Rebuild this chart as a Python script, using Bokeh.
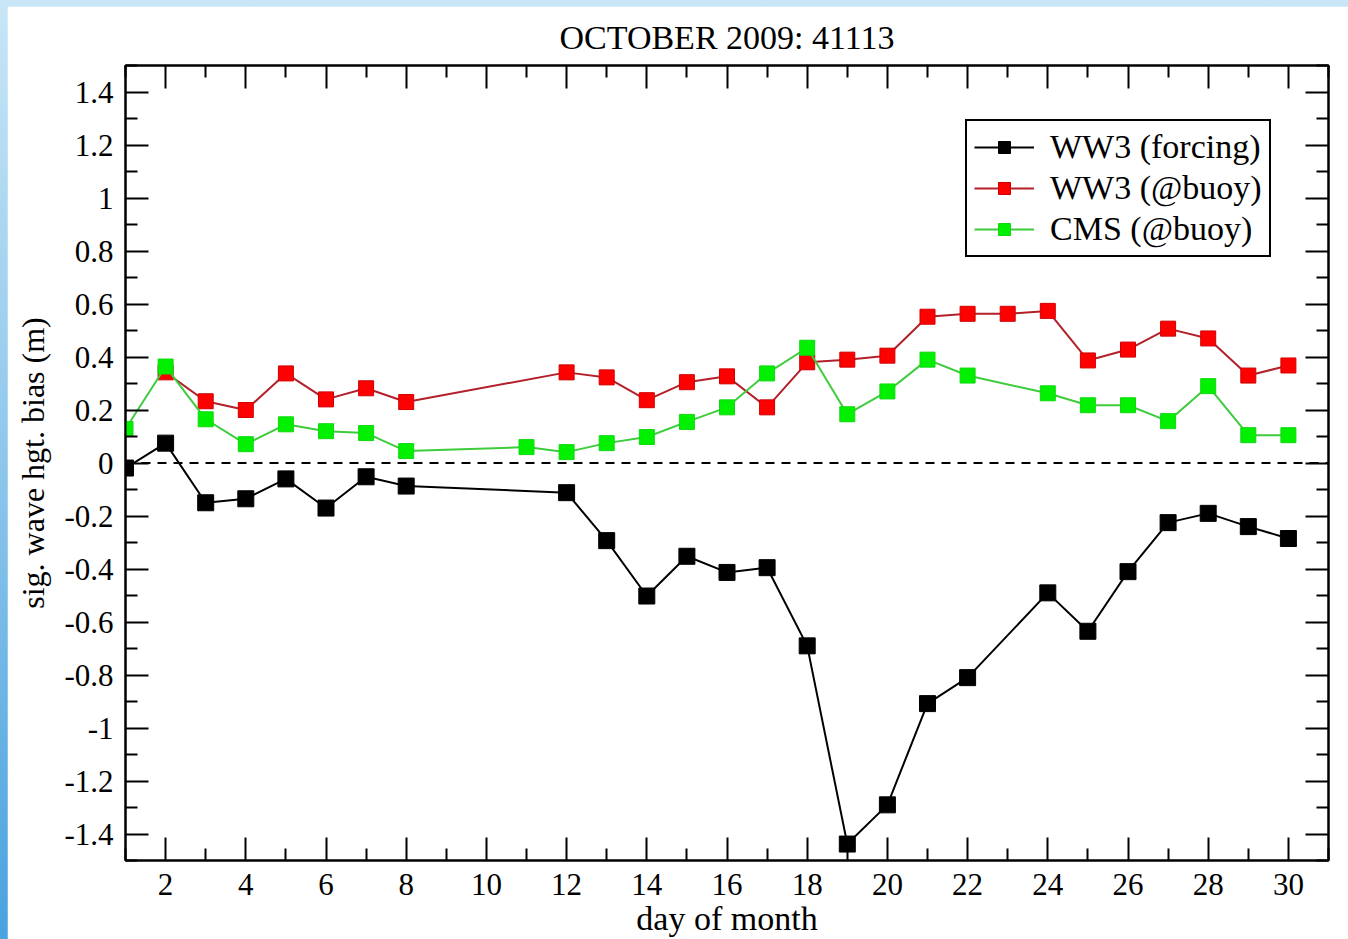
from bokeh.plotting import figure
from bokeh.models import (LinearAxis, FixedTicker, Span, Legend, LegendItem,
                          ColumnDataSource, Range1d, CustomJSTickFormatter)
from bokeh.layouts import column
from bokeh.embed import file_html
from bokeh.resources import INLINE

# ---------------- data ----------------
title_text = "OCTOBER 2009: 41113"
x_label = "day of month"
y_label = "sig. wave hgt. bias (m)"

days_forcing = [1, 2, 3, 4, 5, 6, 7, 8, 12, 13, 14, 15, 16, 17, 18, 19, 20, 21, 22,
                24, 25, 26, 27, 28, 29, 30]
bias_forcing = [-0.019, 0.075, -0.15, -0.135, -0.06, -0.17, -0.052, -0.087,
                -0.112, -0.293, -0.502, -0.352, -0.413, -0.395, -0.69, -1.438,
                -1.29, -0.908, -0.81, -0.49, -0.635, -0.41, -0.225, -0.19, -0.24, -0.285]

days_ww3_buoy = [2, 3, 4, 5, 6, 7, 8, 12, 13, 14, 15, 16, 17, 18, 19, 20, 21, 22, 23,
                 24, 25, 26, 27, 28, 29, 30]
bias_ww3_buoy = [0.342, 0.233, 0.2, 0.338, 0.24, 0.282, 0.23, 0.342, 0.323, 0.237,
                 0.305, 0.327, 0.21, 0.38, 0.39, 0.405, 0.552, 0.563, 0.563, 0.574,
                 0.387, 0.428, 0.507, 0.47, 0.33, 0.368]

days_cms_buoy = [1, 2, 3, 4, 5, 6, 7, 8, 11, 12, 13, 14, 15, 16, 17, 18, 19, 20, 21,
                 22, 24, 25, 26, 27, 28, 29, 30]
bias_cms_buoy = [0.128, 0.364, 0.165, 0.071, 0.146, 0.12, 0.113, 0.045, 0.06, 0.041,
                 0.075, 0.098, 0.155, 0.21, 0.338, 0.435, 0.184, 0.27, 0.39, 0.33,
                 0.263, 0.218, 0.218, 0.158, 0.29, 0.105, 0.105]

series_names = ["WW3 (forcing)", "WW3 (@buoy)", "CMS (@buoy)"]

x_major_ticks = [2, 4, 6, 8, 10, 12, 14, 16, 18, 20, 22, 24, 26, 28, 30]
x_minor_ticks = [1, 3, 5, 7, 9, 11, 13, 15, 17, 19, 21, 23, 25, 27, 29, 31]
y_major_ticks = [-1.4, -1.2, -1.0, -0.8, -0.6, -0.4, -0.2, 0.0, 0.2, 0.4, 0.6, 0.8,
                 1.0, 1.2, 1.4]
y_tick_labels = ["-1.4", "-1.2", "-1", "-0.8", "-0.6", "-0.4", "-0.2", "0", "0.2",
                 "0.4", "0.6", "0.8", "1", "1.2", "1.4"]
y_minor_ticks = [-1.5, -1.3, -1.1, -0.9, -0.7, -0.5, -0.3, -0.1, 0.1, 0.3, 0.5, 0.7,
                 0.9, 1.1, 1.3, 1.5]
zero_level = 0.0

# ---------------- figure ----------------
FONT = "Liberation Serif"

p = figure(frame_width=1203, frame_height=795,
           x_range=Range1d(1, 31), y_range=Range1d(-1.5, 1.5),
           output_backend="svg", toolbar_location=None,
           min_border_left=118, min_border_right=20,
           min_border_top=59, min_border_bottom=79,
           title=title_text)
p.margin = (6, 0, 0, 7)
p.background_fill_color = "white"
p.border_fill_color = "white"
p.outline_line_color = "black"
p.outline_line_width = 2
p.xgrid.visible = False
p.ygrid.visible = False

p.title.text_font = FONT
p.title.text_font_size = "34px"
p.title.text_font_style = "normal"
p.title.align = "center"
p.title.text_color = "black"
p.title.standoff = 20


def style_axis(ax, ticks, minor, show_labels):
    ax.ticker = FixedTicker(ticks=ticks, minor_ticks=minor)
    ax.axis_line_width = 2
    ax.axis_line_color = "black"
    ax.major_tick_line_width = 2
    ax.minor_tick_line_width = 2
    ax.major_tick_line_color = "black"
    ax.minor_tick_line_color = "black"
    ax.major_tick_in = 23
    ax.major_tick_out = 0
    ax.minor_tick_in = 12
    ax.minor_tick_out = 0
    if show_labels:
        ax.major_label_text_font = FONT
        ax.major_label_text_font_size = "31px"
        ax.major_label_text_color = "black"
        ax.axis_label_text_font = FONT
        ax.axis_label_text_font_style = "normal"
        ax.axis_label_text_color = "black"
    else:
        ax.formatter = CustomJSTickFormatter(code="return '';")
        ax.major_label_standoff = 0


xb = p.xaxis[0]
style_axis(xb, x_major_ticks, x_minor_ticks, True)
xb.axis_label = x_label
xb.axis_label_text_font_size = "34px"
xb.major_label_standoff = 13
xb.axis_label_standoff = 2

yl = p.yaxis[0]
style_axis(yl, y_major_ticks, y_minor_ticks, True)
yl.major_label_overrides = {v: s for v, s in zip(y_major_ticks, y_tick_labels)}
yl.axis_label = y_label
yl.axis_label_text_font_size = "32px"
yl.major_label_standoff = 12
yl.axis_label_standoff = 10

xt = LinearAxis()
style_axis(xt, x_major_ticks, x_minor_ticks, False)
p.add_layout(xt, "above")
yr = LinearAxis()
style_axis(yr, y_major_ticks, y_minor_ticks, False)
p.add_layout(yr, "right")

p.add_layout(Span(location=zero_level, dimension="width", line_color="black",
                  line_width=2, line_dash="9 7"))

src_f = ColumnDataSource(dict(x=days_forcing, y=bias_forcing))
src_w = ColumnDataSource(dict(x=days_ww3_buoy, y=bias_ww3_buoy))
src_c = ColumnDataSource(dict(x=days_cms_buoy, y=bias_cms_buoy))

l_f = p.line("x", "y", source=src_f, line_color="black", line_width=2)
m_f = p.scatter("x", "y", source=src_f, marker="square", size=16,
                fill_color="black", line_color="black")
l_w = p.line("x", "y", source=src_w, line_color="#b3202a", line_width=2)
m_w = p.scatter("x", "y", source=src_w, marker="square", size=15,
                fill_color="#ff0000", line_color="#d00000")
l_c = p.line("x", "y", source=src_c, line_color="#3ccc3c", line_width=2)
m_c = p.scatter("x", "y", source=src_c, marker="square", size=15,
                fill_color="#00f000", line_color="#10d810")

legend = Legend(items=[
    LegendItem(label=series_names[0], renderers=[l_f, m_f]),
    LegendItem(label=series_names[1], renderers=[l_w, m_w]),
    LegendItem(label=series_names[2], renderers=[l_c, m_c]),
], location=(840, 603))
legend.margin = 0
legend.padding = 7
legend.spacing = 3
legend.glyph_width = 60
legend.glyph_height = 30
legend.label_standoff = 16
legend.label_text_font = FONT
legend.label_text_font_size = "34px"
legend.label_text_color = "black"
legend.border_line_color = "black"
legend.border_line_width = 2
legend.border_line_alpha = 1
legend.background_fill_color = "white"
legend.background_fill_alpha = 1
p.add_layout(legend)

page = column(p, styles={"background": "linear-gradient(to bottom, #c8e6f6 0%, #8cc6ec 50%, #4aa2df 100%)"})

open("out.html", "w").write(file_html(page, INLINE))
